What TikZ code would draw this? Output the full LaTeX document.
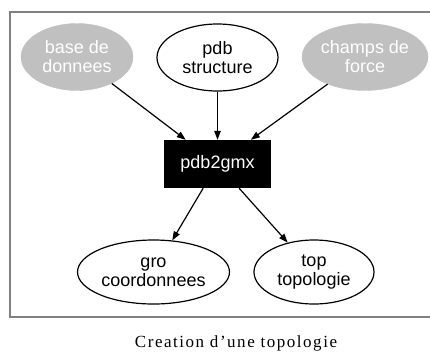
\documentclass[tikz,border=0pt]{standalone}
\usepackage{fontspec}
\setmainfont{Liberation Serif}
\setsansfont{Liberation Sans}
\usetikzlibrary{shapes.geometric,arrows.meta}
\definecolor{ggray}{HTML}{C0C0C0}
\definecolor{fgray}{HTML}{808080}
\begin{document}
\begin{tikzpicture}[x=1pt,y=-1pt,
  lbl/.style={font=\sffamily\fontsize{18}{19}\selectfont,align=center},
  oval/.style={lbl,ellipse,draw=black,line width=1.2pt,inner sep=0pt},
  grayoval/.style={lbl,ellipse,fill=ggray,draw=ggray,text=white,inner sep=0pt},
  boxnode/.style={lbl,rectangle,fill=black,text=white,inner sep=0pt,minimum width=107pt,minimum height=48pt},
  edge/.style={line width=1.2pt,-{Triangle[length=9pt,width=6.5pt]}}]
\useasboundingbox (0,0) rectangle (430,351);
\clip (0,0) rectangle (430,351);
\draw[fgray,line width=2pt] (10,12) rectangle (440,317);
\node[grayoval,minimum width=112pt,minimum height=67pt] (base) at (77,57) {base de\\donnees};
\node[oval,minimum width=121pt,minimum height=67pt] (pdb) at (217.5,57.5) {pdb\\structure};
\node[grayoval,minimum width=126pt,minimum height=67pt] (champs) at (365,57) {champs de\\force};
\node[boxnode] (gmx) at (217.5,164) {pdb2gmx};
\node[oval,minimum width=152pt,minimum height=64pt] (gro) at (153.5,272) {gro\\coordonnees};
\node[oval,minimum width=120pt,minimum height=64pt] (top) at (314,272) {top\\topologie};
\draw[edge] (base) -- (gmx);
\draw[edge] (pdb) -- (gmx);
\draw[edge] (champs) -- (gmx);
\draw[edge] (gmx) -- (gro);
\draw[edge] (gmx) -- (top);
\node[font={\fontsize{17}{18}\selectfont\addfontfeatures{LetterSpace=9}},inner sep=0pt,anchor=base] (cap) at (236,347) {Creation d'une topologie};
\end{tikzpicture}
\end{document}
